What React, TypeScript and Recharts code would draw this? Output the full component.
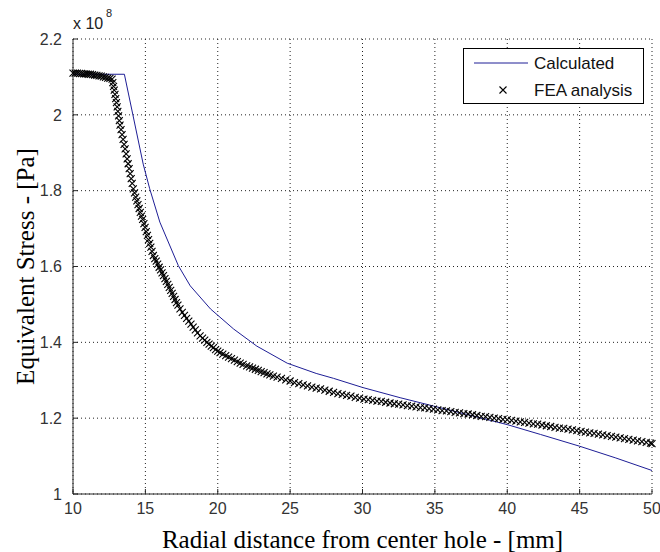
import React from "react";
import { ComposedChart, Line, Scatter, XAxis, YAxis, CartesianGrid } from "recharts";

// values in units of 1e8 Pa, x in mm
const xTicks = [10, 15, 20, 25, 30, 35, 40, 45, 50];
const yTicks = [1, 1.2, 1.4, 1.6, 1.8, 2, 2.2];

const calcX = [10, 13.55, 14.85, 15.3, 16.0, 17.28, 18.1, 19.5, 21.1, 22.7, 24.8, 26.8, 28.0, 30.0, 32.6, 34.9, 37.2, 40.0, 42.3, 45.0, 47.5, 50];
const calcY = [2.107, 2.107, 1.87, 1.805, 1.717, 1.602, 1.549, 1.488, 1.435, 1.39, 1.345, 1.318, 1.305, 1.281, 1.254, 1.232, 1.21, 1.183, 1.157, 1.126, 1.095, 1.062];

const feaX = [
  10.0, 10.15, 10.3, 10.45, 10.6, 10.75, 10.9, 11.05, 11.2, 11.35, 11.5, 11.65, 11.8, 11.95, 12.1, 12.25, 12.4, 12.55, 12.7,
  12.75, 12.8, 12.85, 12.9, 12.95, 13.0, 13.05, 13.1, 13.15, 13.2, 13.25, 13.32, 13.39, 13.46, 13.53, 13.6, 13.67, 13.74,
  13.81, 13.88, 13.95, 14.02, 14.09, 14.17, 14.25, 14.33, 14.41, 14.49, 14.57, 14.65, 14.73, 14.81, 14.9, 14.98, 15.06,
  15.14, 15.22, 15.3, 15.38, 15.46, 15.55, 15.65, 15.75, 15.85, 15.95, 16.05, 16.15, 16.25, 16.35, 16.45, 16.55, 16.65,
  16.75, 16.85, 16.95, 17.05, 17.15, 17.25, 17.39, 17.55, 17.7, 17.85, 18.0, 18.15, 18.3, 18.45, 18.6, 18.78, 18.95, 19.1,
  19.25, 19.4, 19.55, 19.7, 19.85, 20.0, 20.16, 20.35, 20.55, 20.75, 20.95, 21.15, 21.35, 21.55, 21.75, 22.0, 22.2, 22.4,
  22.6, 22.8, 23.0, 23.2, 23.4, 23.6, 23.84, 24.1, 24.4, 24.7, 25.0, 25.3, 25.6, 25.9, 26.2, 26.5, 26.8, 27.1, 27.4, 27.7,
  28.0, 28.3, 28.6, 28.9, 29.2, 29.5, 29.8, 30.1, 30.4, 30.7, 31.0, 31.3, 31.6, 31.9, 32.2, 32.5, 32.8, 33.1, 33.4, 33.7,
  34.0, 34.3, 34.6, 34.9, 35.2, 35.5, 35.8, 36.1, 36.4, 36.7, 37.0, 37.3, 37.6, 37.9, 38.2, 38.5, 38.8, 39.1, 39.4, 39.7,
  40.0, 40.3, 40.6, 40.9, 41.2, 41.5, 41.8, 42.1, 42.4, 42.7, 43.0, 43.3, 43.6, 43.9, 44.2, 44.5, 44.8, 45.1, 45.4, 45.7,
  46.0, 46.3, 46.6, 46.9, 47.2, 47.5, 47.8, 48.1, 48.4, 48.7, 49.0, 49.3, 49.6, 49.9, 50.0,
];
const feaY = [
  2.11, 2.11, 2.11, 2.109, 2.109, 2.108, 2.108, 2.107, 2.107, 2.106, 2.105, 2.104, 2.103, 2.102, 2.1, 2.099, 2.097, 2.096, 2.094,
  2.085, 2.075, 2.065, 2.054, 2.043, 2.032, 2.021, 2.009, 1.997, 1.985, 1.973, 1.961, 1.948, 1.935, 1.922, 1.91, 1.897, 1.884,
  1.871, 1.858, 1.845, 1.832, 1.819, 1.805, 1.794, 1.783, 1.773, 1.763, 1.753, 1.743, 1.733, 1.724, 1.713, 1.703, 1.692,
  1.682, 1.671, 1.661, 1.651, 1.64, 1.629, 1.621, 1.614, 1.606, 1.598, 1.591, 1.583, 1.576, 1.568, 1.561, 1.553, 1.545,
  1.537, 1.529, 1.521, 1.513, 1.505, 1.498, 1.488, 1.479, 1.471, 1.463, 1.456, 1.448, 1.44, 1.433, 1.425, 1.417, 1.411, 1.406,
  1.4, 1.395, 1.39, 1.386, 1.381, 1.377, 1.373, 1.369, 1.365, 1.361, 1.357, 1.353, 1.349, 1.345, 1.342, 1.338, 1.335, 1.332,
  1.329, 1.326, 1.323, 1.32, 1.317, 1.314, 1.311, 1.308, 1.305, 1.301, 1.298, 1.294, 1.291, 1.288, 1.285, 1.282, 1.279, 1.277, 1.274, 1.271,
  1.268, 1.265, 1.263, 1.26, 1.258, 1.255, 1.253, 1.25, 1.249, 1.247, 1.245, 1.244, 1.242, 1.24, 1.238, 1.237, 1.235, 1.233, 1.232, 1.23,
  1.228, 1.227, 1.225, 1.224, 1.222, 1.22, 1.219, 1.217, 1.215, 1.214, 1.212, 1.211, 1.209, 1.207, 1.205, 1.204, 1.202, 1.2, 1.199, 1.197,
  1.196, 1.194, 1.192, 1.19, 1.189, 1.187, 1.185, 1.184, 1.182, 1.18, 1.178, 1.176, 1.174, 1.173, 1.171, 1.169, 1.167, 1.165, 1.163, 1.161,
  1.16, 1.158, 1.156, 1.154, 1.152, 1.15, 1.148, 1.146, 1.144, 1.142, 1.14, 1.138, 1.136, 1.134, 1.133,
];

const calcData = calcX.map((x, i) => ({ x, y: calcY[i] }));
const feaData = feaX.map((x, i) => ({ x, y: feaY[i] }));

const SANS = "'Liberation Sans', Arial, sans-serif";
const SERIF = "'Liberation Serif', 'Times New Roman', serif";
const AXIS = "#262626";
const BLUE = "#1e1e96";

const XMark = (props: any) => {
  const { cx, cy } = props;
  if (cx == null || cy == null) return null;
  const s = 3.5;
  return (
    <path
      d={`M${cx - s},${cy - s}L${cx + s},${cy + s}M${cx + s},${cy - s}L${cx - s},${cy + s}`}
      stroke="#000"
      strokeWidth={1.1}
      fill="none"
    />
  );
};

const XTitle = (props: any) => {
  const vb = props.viewBox || { x: 73, y: 494, width: 579, height: 58 };
  return (
    <text x={vb.x + vb.width / 2} y={vb.y + vb.height - 4} textAnchor="middle" fontFamily={SERIF} fontSize={25} fill="#000">
      Radial distance from center hole - [mm]
    </text>
  );
};

const YTitle = (props: any) => {
  const vb = props.viewBox || { x: 0, y: 39, width: 73, height: 455 };
  const cx = vb.x + 34;
  const cy = vb.y + vb.height / 2;
  return (
    <text x={cx} y={cy} transform={`rotate(-90 ${cx} ${cy})`} textAnchor="middle" fontFamily={SERIF} fontSize={25} fill="#000">
      Equivalent Stress - [Pa]
    </text>
  );
};

const tickStyle = { fontSize: 16, fill: "#333", fontFamily: SANS };

export default function App() {
  return (
    <div style={{ position: "absolute", left: 0, top: 0, width: 660, height: 552, background: "#fff" }}>
      <ComposedChart width={660} height={552} margin={{ top: 39, right: 8, bottom: 0, left: 0 }}>
        <CartesianGrid stroke="#222" strokeDasharray="1 3" />
        <XAxis
          dataKey="x"
          type="number"
          domain={[10, 50]}
          ticks={xTicks}
          interval={0}
          height={58}
          tickSize={-5}
          tickMargin={14}
          tick={tickStyle}
          stroke={AXIS}
          label={<XTitle />}
        />
        <XAxis xAxisId="top" orientation="top" type="number" domain={[10, 50]} ticks={xTicks} interval={0} height={0} tickSize={-5} tick={false} stroke={AXIS} />
        <YAxis
          dataKey="y"
          type="number"
          domain={[1, 2.2]}
          ticks={yTicks}
          interval={0}
          width={73}
          tickSize={-5}
          tickMargin={16}
          tick={tickStyle}
          stroke={AXIS}
          label={<YTitle />}
        />
        <YAxis yAxisId="right" orientation="right" type="number" domain={[1, 2.2]} ticks={yTicks} interval={0} width={0} tickSize={-5} tick={false} stroke={AXIS} />
        <Scatter data={feaData} shape={<XMark />} isAnimationActive={false} />
        <Line data={calcData} dataKey="y" type="linear" stroke={BLUE} strokeWidth={1} dot={false} isAnimationActive={false} />
      </ComposedChart>

      <div style={{ position: "absolute", left: 73, top: 16, fontFamily: SANS, fontSize: 16, color: "#222", lineHeight: "16px" }}>
        x 10
      </div>
      <div style={{ position: "absolute", left: 106, top: 8, fontFamily: SANS, fontSize: 11, color: "#222", lineHeight: "11px" }}>
        8
      </div>

      <div
        style={{
          position: "absolute",
          left: 463,
          top: 48,
          width: 181,
          height: 56,
          border: "1px solid #000",
          boxSizing: "border-box",
          background: "#fff",
        }}
      >
        <svg width={179} height={54} style={{ display: "block" }}>
          <line x1={10} y1={14} x2={64} y2={14} stroke={BLUE} strokeWidth={1} />
          <text x={70} y={14} dominantBaseline="central" fontFamily={SANS} fontSize={17} fill="#111">
            Calculated
          </text>
          <XMark cx={39} cy={41} />
          <text x={70} y={41} dominantBaseline="central" fontFamily={SANS} fontSize={17} fill="#111">
            FEA analysis
          </text>
        </svg>
      </div>
    </div>
  );
}
